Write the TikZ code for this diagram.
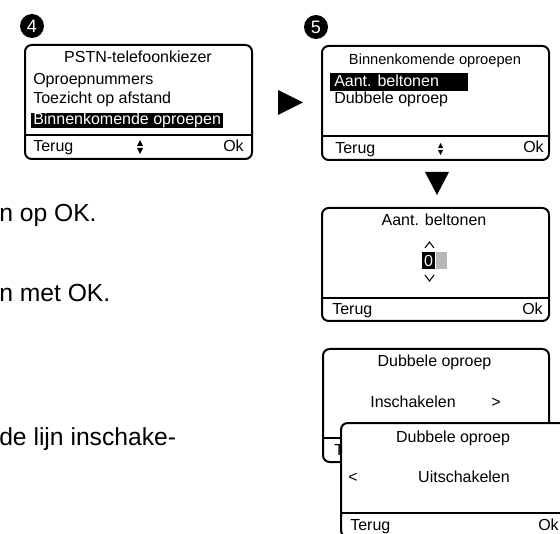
\documentclass[tikz,border=0pt]{standalone}
\usepackage{fontspec}
\setmainfont{Liberation Sans}
\begin{document}
\begin{tikzpicture}[x=0.75pt,y=-0.75pt,
  screen/.style={draw, line width=1.5pt, rounded corners=5pt, fill=white},
  sepline/.style={line width=1.5pt},
  txt/.style={inner sep=0pt, font=\fontsize{12}{14}\selectfont},
  smalltxt/.style={inner sep=0pt, font=\fontsize{11}{13}\selectfont},
  body/.style={inner sep=0pt, anchor=base west, font=\fontsize{18.5}{22}\selectfont},
  badge/.style={circle, fill=black, text=white, inner sep=0pt, minimum size=18pt, font=\fontsize{13.5}{15}\selectfont},
  hl/.style={fill=black},
  tri/.style={fill=black},
  chev/.style={line width=0.8pt}]
\useasboundingbox (0,0) rectangle (560,534);

% body text (clipped at left)
\node[body] (t1) at (-1,222) {n op OK.};
\node[body] (t2) at (-1,302) {n met OK.};
\node[body] (t3) at (-1,445) {de lijn inschake-};

% badges
\node[badge] (b4) at (32,26) {4};
\node[badge] (b5) at (316,27) {5};

% ---- screen 4
\draw[screen] (25,45) rectangle (252,159);
\draw[sepline] (25,135) -- (252,135);
\node[txt, anchor=base] (s1t) at (138,63) {PSTN-telefoonkiezer};
\node[txt, anchor=base west] (s1a) at (33,85) {Oproepnummers};
\node[txt, anchor=base west] (s1b) at (33,104) {Toezicht op afstand};
\fill[hl] (31,113) rectangle (223,128);
\node[txt, anchor=base west, text=white] (s1c) at (33,125) {Binnenkomende oproepen};
\node[txt, anchor=base west] (s1l) at (33,152) {Terug};
\node[txt, anchor=base east] (s1r) at (244,152) {Ok};
\fill[tri] (137,146) -- (143,146) -- (140,140) -- cycle;
\fill[tri] (137,148) -- (143,148) -- (140,154) -- cycle;

% right arrow
\fill[tri] (278,90) -- (278,115) -- (303,102.5) -- cycle;

% ---- screen 5
\draw[screen] (322,46) rectangle (549,160);
\draw[sepline] (322,136) -- (549,136);
\node[smalltxt, anchor=base] (s2t) at (435,65) {Binnenkomende oproepen};
\fill[hl] (330,73) rectangle (468,91);
\node[txt, anchor=base west, text=white] (s2a) at (334,87) {Aant. beltonen};
\node[txt, anchor=base west] (s2b) at (334,104) {Dubbele oproep};
\node[txt, anchor=base west] (s2l) at (335,154) {Terug};
\node[txt, anchor=base east] (s2r) at (544,153) {Ok};
\fill[tri] (438,148) -- (443,148) -- (440.5,143) -- cycle;
\fill[tri] (438,150) -- (443,150) -- (440.5,155) -- cycle;

% down arrow
\fill[tri] (425,172) -- (449,172) -- (437,195) -- cycle;

% ---- screen Aant. beltonen
\draw[screen] (322,208) rectangle (549,321);
\draw[sepline] (322,298) -- (549,298);
\node[txt, anchor=base] (s3t) at (434,226) {Aant. beltonen};
\draw[chev] (425,248) -- (429.5,242) -- (434,248);
\fill[hl] (422,252) rectangle (435,269);
\node[txt, text=white] (s3v) at (428.5,260.5) {0};
\fill[black!28] (436,252) rectangle (447,269);
\draw[chev] (425,275) -- (429.5,281) -- (434,275);
\node[txt, anchor=base west] (s3l) at (332,315) {Terug};
\node[txt, anchor=base east] (s3r) at (543,315) {Ok};

% ---- screen Dubbele oproep (back)
\draw[screen] (323,349) rectangle (549,462);
\draw[sepline] (323,438) -- (549,438);
\node[txt, anchor=base] (s4t) at (434.5,367) {Dubbele oproep};
\node[txt, anchor=base] (s4a) at (413,407) {Inschakelen};
\node[txt, anchor=base] (s4g) at (496,407) {>};
\node[txt, anchor=base west] (s4l) at (334,455) {Terug};

% ---- screen Dubbele oproep (front)
\draw[screen] (341,423) rectangle (568,537);
\draw[sepline] (341,513) -- (568,513);
\node[txt, anchor=base] (s5t) at (453,442) {Dubbele oproep};
\node[txt, anchor=base] (s5a) at (464,482) {Uitschakelen};
\node[txt, anchor=base] (s5g) at (353,482) {<};
\node[txt, anchor=base west] (s5l) at (350,530) {Terug};
\node[txt, anchor=base east] (s5r) at (559,530) {Ok};
\end{tikzpicture}
\end{document}
